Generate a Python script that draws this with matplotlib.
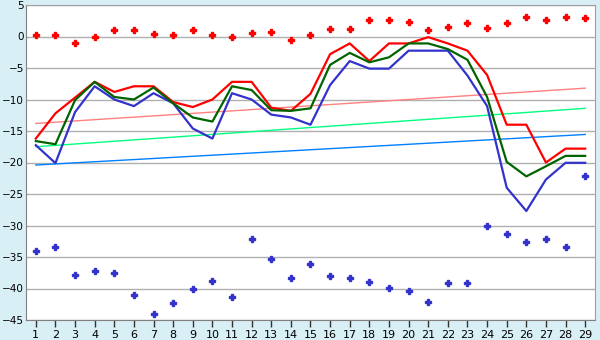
import numpy as np
import matplotlib.pyplot as plt

days = list(range(1, 30))

red_line = [-16.2, -12.2, -9.7, -7.2, -8.8, -7.9, -7.9, -10.4, -11.2, -10.0,
            -7.2, -7.2, -11.3, -11.8, -9.1, -2.8, -1.1, -3.9, -1.1, -1.1,
            -0.1, -1.1, -2.25, -6.1, -14.0, -14.0, -20.0, -17.8, -17.8]
green_line = [-16.6, -17.1, -10.1, -7.2, -9.6, -10.0, -8.1, -10.6, -12.85, -13.5,
              -7.9, -8.5, -11.7, -11.8, -11.4, -4.5, -2.6, -4.1, -3.3, -1.1,
              -1.1, -2.0, -3.7, -9.6, -19.9, -22.2, -20.6, -18.95, -18.95]
blue_line = [-17.25, -20.1, -12.0, -7.9, -10.0, -11.05, -9.0, -10.6, -14.6, -16.2,
             -9.0, -10.0, -12.4, -12.85, -14.0, -7.7, -3.9, -5.1, -5.1, -2.25,
             -2.25, -2.25, -6.2, -11.05, -24.0, -27.7, -22.7, -20.05, -20.05]

red_points = [0.2, 0.2, -1.1, -0.1, 1.0, 1.0, 0.35, 0.2, 1.0, 0.2,
              -0.1, 0.5, 0.7, -0.6, 0.2, 1.15, 1.15, 2.6, 2.6, 2.25,
              1.0, 1.5, 2.1, 1.3, 2.1, 3.1, 2.6, 3.1, 2.9]
blue_points = [-34.0, -33.35, -37.8, -37.3, -37.6, -41.0, -44.0, -42.3, -40.0, -38.8,
               -41.3, -32.2, -35.3, -38.3, -36.1, -38.0, -38.4, -38.9, -39.9, -40.35,
               -42.1, -39.1, -39.1, -30.0, -31.3, -32.6, -32.2, -33.4, -22.1]

# trend lines, values at day 1 and day 29
trend_x = [1, 29]
red_trend = [-13.8, -8.2]
green_trend = [-17.5, -11.4]
blue_trend = [-20.4, -15.55]

y_ticks = list(range(-45, 6, 5))

bg = '#d9eff6'
fig = plt.figure(figsize=(6, 3.4), dpi=100, facecolor=bg)
ax = fig.add_axes([26 / 600, 20 / 340, 569 / 600, 315 / 340])
ax.set_facecolor('white')

for y in y_ticks:
    ax.axhline(y, color='#b0b0b0', lw=1, zorder=1)

ax.plot(trend_x, red_trend, color='#ff8080', lw=1, zorder=2)
ax.plot(trend_x, green_trend, color='#00ff80', lw=1, zorder=2)
ax.plot(trend_x, blue_trend, color='#0080ff', lw=1, zorder=2)

ax.plot(days, red_line, color='#ff0000', lw=1.6, zorder=4)
ax.plot(days, green_line, color='#006400', lw=1.6, zorder=4)
ax.plot(days, blue_line, color='#3333cc', lw=1.6, zorder=3)

ax.plot(days, red_points, ls='none', marker='P', ms=3.8, color='#ff0000', zorder=5)
ax.plot(days, blue_points, ls='none', marker='P', ms=3.8, color='#3333cc', zorder=5)

ax.set_xlim(0.5, 29.5)
ax.set_ylim(-45, 5)
ax.set_xticks(days)
ax.set_yticks(y_ticks)
ax.set_yticklabels([str(v).replace('-', '\u2212') for v in y_ticks])
ax.tick_params(axis='x', length=5, width=1, color='#333333', labelsize=8, pad=2)
ax.tick_params(axis='y', length=0, labelsize=7.5, pad=1.5)

for s in ax.spines.values():
    s.set_color('#a0a0a0')
ax.spines['left'].set_color('#808080')
ax.spines['bottom'].set_color('#808080')

fig.savefig('out.png', dpi=100, facecolor=bg)
